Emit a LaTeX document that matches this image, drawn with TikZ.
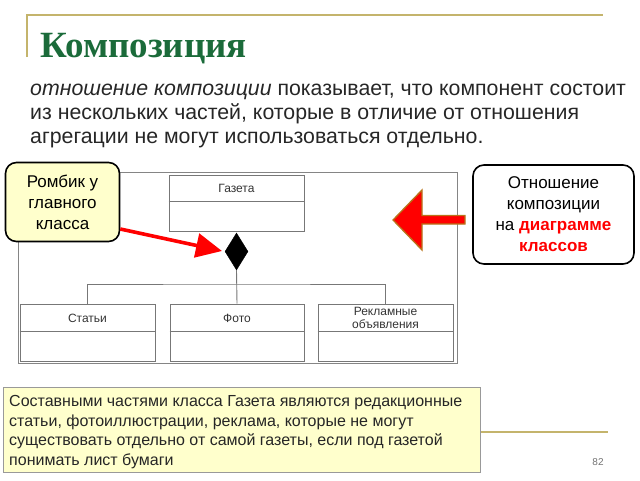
\documentclass[tikz,border=0pt]{standalone}
\usepackage{fontspec}
\setmainfont{Liberation Sans}
\newfontfamily\titlefont{Liberation Serif}
\usetikzlibrary{arrows.meta,shapes.geometric}
\definecolor{goldline}{HTML}{C4B46C}
\definecolor{titlegreen}{HTML}{1B6B3A}
\definecolor{noteyellow}{HTML}{FFFFCC}
\definecolor{umlgray}{HTML}{777777}
\definecolor{arrowedge}{HTML}{B8741A}
\begin{document}
\begin{tikzpicture}[x=1pt,y=-1pt,
  bodytext/.style={inner sep=0, font=\fontsize{21.3}{24}\selectfont, text=black!85},
  callout/.style={draw=black, line width=1.6pt, rounded corners=11pt, align=center,
     font=\fontsize{17}{21}\selectfont, inner sep=0},
  classbox/.style={draw=umlgray, line width=0.9pt, inner sep=0},
  classname/.style={font=\fontsize{12}{13.5}\selectfont, text=black!80, align=center, inner sep=0},
  umlline/.style={draw=umlgray, line width=0.9pt}
]
\useasboundingbox (0,0) rectangle (640,480);
% slide decoration
\coordinate (tl) at (27,15);
\coordinate (tr) at (603,15);
\coordinate (tb) at (27,57);
\draw[goldline, line width=1.4pt] (tb) -- (tl) -- (tr);
\coordinate (bl) at (480,432);
\coordinate (br) at (608,432);
\draw[goldline, line width=1.4pt] (bl) -- (br);
\node[anchor=base, font=\fontsize{10}{12}\selectfont, text=black!55, inner sep=0] (pg) at (598,465) {82};
% title
\node[anchor=base west, inner sep=0, font=\titlefont\bfseries\fontsize{37}{42}\selectfont, text=titlegreen] (title) at (40,57) {Композиция};
% body text
\node[bodytext, anchor=base west] (l1) at (30,95) {\textit{отношение композиции} показывает, что компонент состоит};
\node[bodytext, anchor=base west] (l2) at (30,119) {из нескольких частей, которые в отличие от отношения};
\node[bodytext, anchor=base west] (l3) at (30,143) {агрегации не могут использоваться отдельно.};
% diagram frame
\node[draw=umlgray!90, line width=1pt, inner sep=0, minimum width=439, minimum height=191] (frame) at (237.5,267.5) {};
% classes
\node[classbox, minimum width=135, minimum height=56] (gaz) at (236.5,203) {};
\draw[umlline] ([yshift=-27pt]gaz.north west) -- ([yshift=-27pt]gaz.north east);
\node[classname] (gazt) at (236.5,188.5) {Газета};
\node[classbox, minimum width=135, minimum height=57] (stat) at (87.5,332.5) {};
\node[classbox, minimum width=134, minimum height=57] (foto) at (237,332.5) {};
\node[classbox, minimum width=135, minimum height=57] (rekl) at (385.5,332.5) {};
\foreach \b in {stat,foto,rekl}{
  \draw[umlline] ([yshift=-28pt]\b.north west) -- ([yshift=-28pt]\b.north east);
}
\node[classname] (statt) at (87.5,318) {Статьи};
\node[classname] (fotot) at (237,318) {Фото};
\node[classname] (reklt) at (385.5,318) {Рекламные\\объявления};
% composition diamond and connectors
\node[diamond, fill=black, draw=black, inner sep=0, minimum width=23, minimum height=37] (dia) at (236.5,251.5) {};
\coordinate (junc) at (237,284);
\draw[umlline] (dia.south) -- (foto.north);
\draw[umlline] (stat.north) |- (junc) -| (rekl.north);
% left callout
\node[callout, fill=noteyellow, minimum width=114, minimum height=79] (romb) at (62.5,202) {Ромбик у\\главного\\класса};
\coordinate (tip) at (222,251);
\draw[red, line width=3.6pt, -{Triangle[length=26pt,width=24pt]}] (romb.east |- 0,229) -- (tip);
% right callout
\node[callout, fill=white, minimum width=161, minimum height=99] (rel) at (553.5,214.5) {Отношение\\композиции\\на {\bfseries\color{red}диаграмме}\\{\bfseries\color{red}классов}};
% block arrow
\coordinate (ba) at (393,220);
\filldraw[fill=red, draw=arrowedge, line width=1.3pt, line join=miter]
  (ba) -- (422,190) -- (422,215.5) -- (465,215.5) -- (465,224) -- (422,224) -- (422,250) -- cycle;
% bottom note
\node[draw=black!40, line width=0.9pt, fill=noteyellow, minimum width=477, minimum height=85, inner sep=0] (note) at (241.5,429.5) {};
\node[anchor=north west, align=left, inner sep=0, font=\fontsize{16}{19.8}\selectfont, text=black!85] (notet) at (9,395)
 {Составными частями класса Газета являются редакционные\\статьи, фотоиллюстрации, реклама, которые не могут\\существовать отдельно от самой газеты, если под газетой\\понимать лист бумаги};
\end{tikzpicture}
\end{document}
